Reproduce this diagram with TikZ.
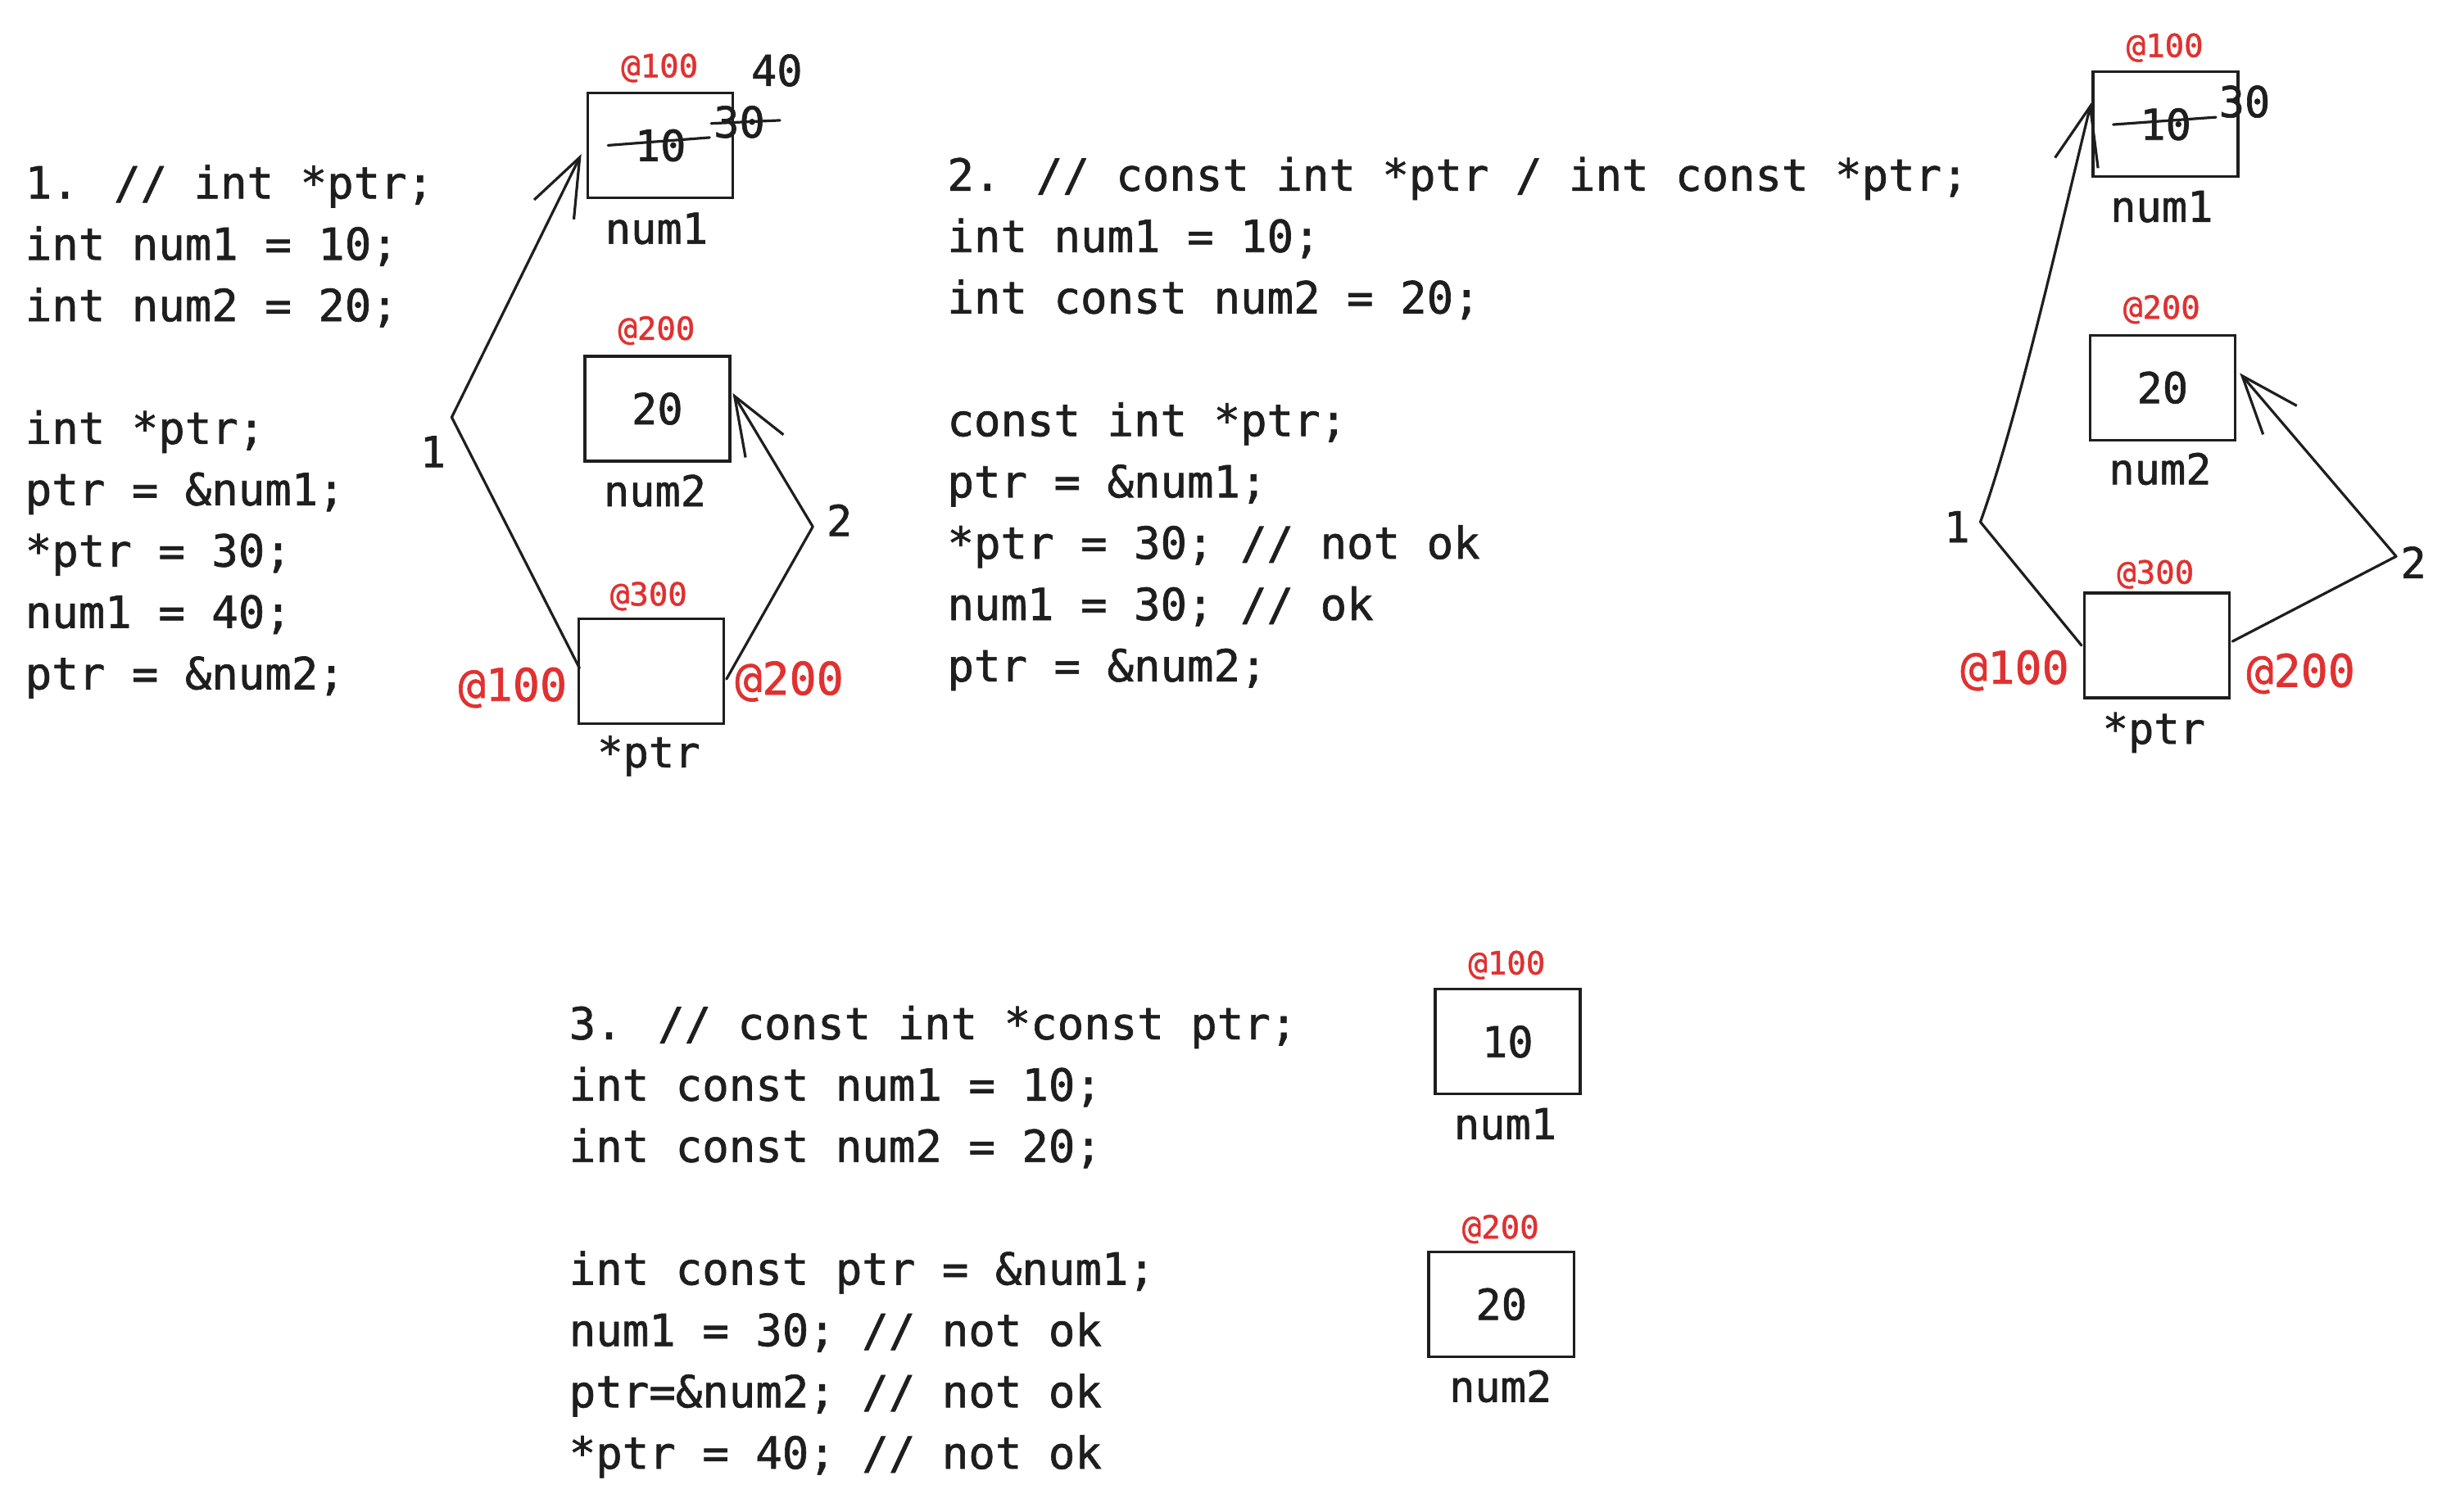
\documentclass[tikz,border=0pt]{standalone}
\usepackage{fontspec}
\newfontfamily\mono[FakeBold=1.2]{DejaVu Sans Mono}
\usetikzlibrary{arrows.meta,calc}
\definecolor{ink}{HTML}{1E1E1E}
\definecolor{redink}{HTML}{E03131}
\begin{document}
\begin{tikzpicture}[x=1.908pt,y=-1.908pt,
  code/.style={font=\mono\fontsize{54pt}{75pt}\selectfont, text=ink, anchor=base west, inner sep=0pt},
  lbl/.style={font=\mono\fontsize{52pt}{60pt}\selectfont, text=ink, inner sep=0pt, text height=38pt, text depth=0pt},
  addr/.style={font=\mono\fontsize{39pt}{45pt}\selectfont, text=redink, inner sep=0pt, text height=28.5pt, text depth=0pt},
  bigaddr/.style={font=\mono\fontsize{55pt}{60pt}\selectfont, text=redink, inner sep=0pt, text height=40pt, text depth=0pt},
  cell/.style={lbl, draw=ink, line width=3.4pt, minimum width=177pt, minimum height=128pt},
  strike/.style={draw=ink, line width=3.2pt, line cap=round},
  arr/.style={draw=ink, line width=3.2pt, line join=round, line cap=round, -{Straight Barb[length=71pt,width=54pt]}}
]
\useasboundingbox (0,0) rectangle (1568.1,967);
\fill[white] (0,0) rectangle (1568.1,967);

% ---------- block 1 code ----------
\node[code] (c1a) at (16,127) {1. // int *ptr;};
\node[code] (c1b) at (16,166.25) {int num1 = 10;};
\node[code] (c1c) at (16,205.5) {int num2 = 20;};
\node[code] (c1d) at (16,284) {int *ptr;};
\node[code] (c1e) at (16,323.25) {ptr = \&num1;};
\node[code] (c1f) at (16,362.5) {*ptr = 30;};
\node[code] (c1g) at (16,401.75) {num1 = 40;};
\node[code] (c1h) at (16,441) {ptr = \&num2;};

% ---------- block 2 code ----------
\node[code] (c2a) at (606,122) {2. // const int *ptr / int const *ptr;};
\node[code] (c2b) at (606,161.25) {int num1 = 10;};
\node[code] (c2c) at (606,200.5) {int const num2 = 20;};
\node[code] (c2d) at (606,279) {const int *ptr;};
\node[code] (c2e) at (606,318.25) {ptr = \&num1;};
\node[code] (c2f) at (606,357.5) {*ptr = 30; // not ok};
\node[code] (c2g) at (606,396.75) {num1 = 30; // ok};
\node[code] (c2h) at (606,436) {ptr = \&num2;};

% ---------- block 3 code ----------
\node[code] (c3a) at (364,665) {3. // const int *const ptr;};
\node[code] (c3b) at (364,704.25) {int const num1 = 10;};
\node[code] (c3c) at (364,743.5) {int const num2 = 20;};
\node[code] (c3d) at (364,822) {int const ptr = \&num1;};
\node[code] (c3e) at (364,861.25) {num1 = 30; // not ok};
\node[code] (c3f) at (364,900.5) {ptr=\&num2; // not ok};
\node[code] (c3g) at (364,939.75) {*ptr = 40; // not ok};

% ---------- diagram 1 ----------
\node[cell] (a1) at (422.5,93) {10};
\node[addr] (a1addr) at (422,42) {@100};
\node[lbl] (a1name) at (420,146) {num1};
\node[lbl] (a1v30) at (473,78) {30};
\node[lbl] (a1v40) at (497,45) {40};
\draw[strike] (389,93) -- (454,88);
\draw[strike] (455,79) -- (499,77);

\node[cell] (a2) at (420.5,261.5) {20};
\node[addr] (a2addr) at (420,210) {@200};
\node[lbl] (a2name) at (419,314) {num2};

\node[cell] (ap) at (416.5,429.5) {};
\node[addr] (apaddr) at (415,380) {@300};
\node[lbl] (apname) at (415,481) {*ptr};
\node[bigaddr] (ap100) at (328,438) {@100};
\node[bigaddr] (ap200) at (505,434) {@200};

\coordinate (k1) at (289,267);
\coordinate (k2) at (520,337);
\node[lbl] (a1num) at (277,289) {1};
\node[lbl] (a2num) at (537,333) {2};
\draw[arr] ($(ap.west)+(1.5,-2)$) -- (k1) -- ($(a1.west)+(-3.3,5.6)$);
\draw[arr] ($(ap.east)+(1,5)$) -- (k2) -- ($(a2.east)+(1,-10)$);

% ---------- diagram 2 ----------
\node[cell] (b1) at (1385.5,79.5) {10};
\node[addr] (b1addr) at (1385,29) {@100};
\node[lbl] (b1name) at (1383,132) {num1};
\node[lbl] (b1v30) at (1436,65) {30};
\draw[strike] (1352,79.7) -- (1417.7,75);

\node[cell] (b2) at (1383.5,248) {20};
\node[addr] (b2addr) at (1383,196.5) {@200};
\node[lbl] (b2name) at (1382,300) {num2};

\node[cell] (bp) at (1380,413) {};
\node[addr] (bpaddr) at (1379,366) {@300};
\node[lbl] (bpname) at (1378,466) {*ptr};
\node[bigaddr] (bp100) at (1289,427) {@100};
\node[bigaddr] (bp200) at (1472,429) {@200};

\coordinate (m1) at (1267,334);
\coordinate (m2) at (1533,356);
\node[lbl] (b1num) at (1252,337) {1};
\node[lbl] (b2num) at (1544,360) {2};
\draw[arr] ($(bp.west)+(-1,0)$) -- (m1) .. controls (1290,270) and (1315,160) .. ($(b1.west)+(-0.4,-13.7)$);
\draw[arr] ($(bp.east)+(1,-2.6)$) -- (m2) -- ($(b2.east)+(2.2,-9.3)$);

% ---------- diagram 3 ----------
\node[cell] (d1) at (964.5,666.5) {10};
\node[addr] (d1addr) at (964,616) {@100};
\node[lbl] (d1name) at (963,719) {num1};

\node[cell] (d2) at (960.5,834.5) {20};
\node[addr] (d2addr) at (960,785) {@200};
\node[lbl] (d2name) at (960,887) {num2};
\end{tikzpicture}
\end{document}
